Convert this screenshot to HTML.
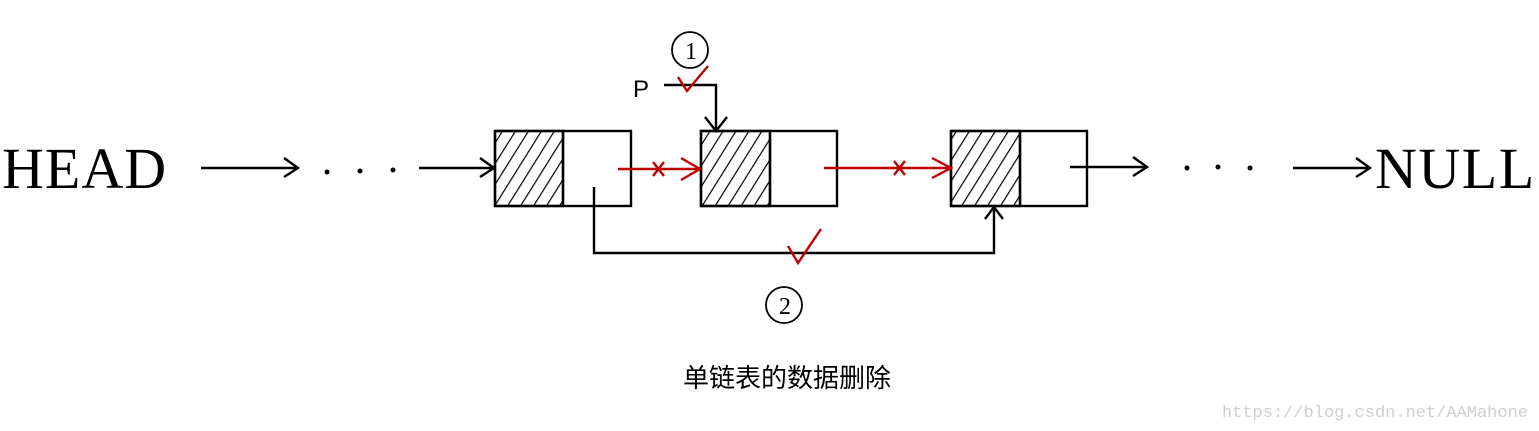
<!DOCTYPE html>
<html><head><meta charset="utf-8"><style>
html,body{margin:0;padding:0;background:#fff;}
svg{display:block;}
</style></head><body>
<svg width="1539" height="431" viewBox="0 0 1539 431" xmlns="http://www.w3.org/2000/svg">
<defs>
<pattern id="h" patternUnits="userSpaceOnUse" width="11" height="11" patternTransform="rotate(32)">
<line x1="0" y1="0" x2="0" y2="11" stroke="#000" stroke-width="2.4"/>
</pattern>
</defs>
<g font-family="Liberation Serif, serif" font-size="58" fill="#000">
<text x="2" y="188" letter-spacing="1">HEAD</text>
<text x="1375" y="188" letter-spacing="1.5">NULL</text>
</g>
<g stroke="#000" stroke-width="2.4" fill="none">
<rect x="495" y="131" width="68" height="75" fill="url(#h)"/>
<rect x="495" y="131" width="136" height="75"/>
<line x1="563" y1="131" x2="563" y2="206"/>
<rect x="701" y="131" width="69" height="75" fill="url(#h)"/>
<rect x="701" y="131" width="136" height="75"/>
<line x1="770" y1="131" x2="770" y2="206"/>
<rect x="951" y="131" width="69" height="75" fill="url(#h)"/>
<rect x="951" y="131" width="136" height="75"/>
<line x1="1020" y1="131" x2="1020" y2="206"/>
<line x1="201" y1="168" x2="298" y2="168"/><polyline points="284,158 298,168 284,177"/>
<line x1="419" y1="168" x2="494" y2="168"/><polyline points="480,158 494,168 480,177"/>
<line x1="1070" y1="167" x2="1147" y2="167"/><polyline points="1133,157 1147,167 1133,176"/>
<line x1="1293" y1="168" x2="1370" y2="168"/><polyline points="1356,158 1370,168 1356,177"/>
<polyline points="664,85 716,85 716,131"/><polyline points="705,117 716,131 727,117"/>
<polyline points="594,187 594,253 994,253 994,207"/><polyline points="985,219 994,207 1003,219"/>
<circle cx="690" cy="50" r="18" stroke-width="1.8"/>
<circle cx="784" cy="305" r="18" stroke-width="1.8"/>
</g>
<g fill="#000">
<circle cx="327" cy="172" r="2.5"/><circle cx="360" cy="171" r="2.5"/><circle cx="393" cy="170" r="2.5"/>
<circle cx="1187" cy="168" r="2.5"/><circle cx="1218" cy="167" r="2.5"/><circle cx="1250" cy="168" r="2.5"/>
</g>
<g font-family="Liberation Serif, serif" font-size="24" fill="#000" text-anchor="middle">
<text x="691" y="59">1</text>
<text x="785" y="314">2</text>
</g>
<text x="633" y="97" font-family="Liberation Sans, sans-serif" font-size="24">P</text>
<g stroke="#c00000" stroke-width="2.4" fill="none">
<line x1="618" y1="169" x2="700" y2="169"/><polyline points="681,158 700,169 681,180"/>
<line x1="653" y1="162" x2="664" y2="176"/><line x1="664" y1="162" x2="653" y2="176"/>
<line x1="824" y1="168" x2="951" y2="168"/><polyline points="932,158 951,168 932,178"/>
<line x1="894" y1="161" x2="905" y2="175"/><line x1="905" y1="161" x2="894" y2="175"/>
<polyline points="678,77 687,91 708,66"/>
<polyline points="788,246 798,263 821,229"/>
</g>
<text x="787" y="387" text-anchor="middle" font-family="Liberation Sans, Noto Sans CJK SC, sans-serif" font-size="26" fill="#000">单链表的数据删除</text>
<text x="1528" y="417" text-anchor="end" font-family="Liberation Mono, monospace" font-size="17" fill="#cfcfcf">https://blog.csdn.net/AAMahone</text>
</svg>
</body></html>
